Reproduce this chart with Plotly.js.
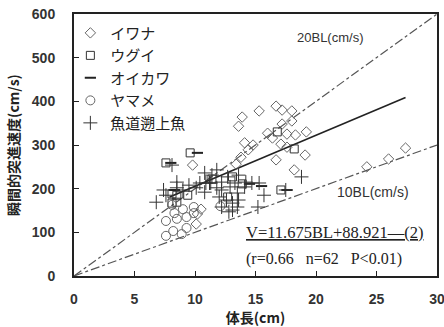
<!DOCTYPE html>
<html><head><meta charset="utf-8">
<script src="https://cdn.plot.ly/plotly-3.0.1.min.js"></script>
<style>html,body{margin:0;padding:0;background:#fff;}#chart{width:444px;height:327px;}</style>
</head><body><div id="chart"></div>
<script>
// イワナ (diamonds)
const iwanaX = [13.9,13.6,15.3,16.7,17.2,18.0,17.2,18.0,16.0,16.4,17.6,18.3,19.2,17.1,17.6,19.1,16.7,18.2,14.1,14.4,14.8,13.4,13.8,24.2,26.0,27.4,9.8,10.5,10.1,10.2];
const iwanaY = [364,343,378,389,380,378,348,355,327,316,325,323,330,302,295,277,266,243,305,289,300,256,272,250,268,293,254,153,119,142];
// ウグイ (squares)
const uguiX = [7.6,9.6,8.1,8.5,8.1,8.5,9.4,12.7,13.1,13.9,17.1,16.8,18.2,11.4];
const uguiY = [259,282,188,185,167,169,185,181,227,211,197,330,291,222];
// オイカワ (dash)
const oikawaX = [8.0,10.2,8.3,14.5,15.5,17.6];
const oikawaY = [259,282,197,211,206,197];
// ヤマメ (circles)
const yamameX = [7.6,8.3,8.5,9.3,9.9,8.1,9.9,7.6,8.2,8.9,9.3,12.1,9.0];
const yamameY = [126,144,131,135,144,163,158,92,103,96,110,160,153];
// 魚道遡上魚 (crosses)
const gyodoX = [6.8,7.6,8.5,8.5,10.1,10.8,11.4,11.3,11.8,12.0,12.6,13.1,12.2,13.6,14.2,14.7,15.2,10.4,10.9,12.7,13.6,15.3,14.1,15.7,12.9,12.2,13.5,13.1,13.5,12.8,10.8,11.2,18.8,17.5,9.0,9.5,8.1,11.8,12.2,13.3,7.4];
const gyodoY = [169,185,215,202,202,236,231,213,202,181,174,151,158,174,215,213,158,213,213,227,231,213,204,185,204,197,190,167,158,147,192,213,227,197,197,208,254,243,215,213,197];
// reference lines and regression
const bl20X = [0,30], bl20Y = [0,600];
const bl10X = [0,30], bl10Y = [0,300];
const regX = [7.9,27.4], regY = [181,409];
const xTicks = [0,5,10,15,20,25,30];
const yTicks = [0,100,200,300,400,500,600];

const fontJP = '"Noto Sans CJK JP", "Liberation Sans", sans-serif';
const fontSans = '"Liberation Sans", Arial, sans-serif';
const fontSerif = '"Liberation Serif", "Times New Roman", serif';
const traces = [
  {x:bl20X,y:bl20Y,mode:'lines',line:{color:'#555',width:1.2,dash:'dashdot'},showlegend:false,hoverinfo:'skip'},
  {x:bl10X,y:bl10Y,mode:'lines',line:{color:'#555',width:1.2,dash:'dashdot'},showlegend:false,hoverinfo:'skip'},
  {x:regX,y:regY,mode:'lines',line:{color:'#222',width:1.6},showlegend:false,hoverinfo:'skip'},
  {x:iwanaX,y:iwanaY,mode:'markers',name:'イワナ',marker:{symbol:'diamond-open',size:8,color:'#666',line:{width:1}}},
  {x:uguiX,y:uguiY,mode:'markers',name:'ウグイ',marker:{symbol:'square-open',size:8,color:'#333',line:{width:1}}},
  {x:oikawaX,y:oikawaY,mode:'markers',name:'オイカワ',marker:{symbol:'line-ew-open',size:8,color:'#222',line:{width:2}}},
  {x:yamameX,y:yamameY,mode:'markers',name:'ヤマメ',marker:{symbol:'circle-open',size:9,color:'#666',line:{width:1}}},
  {x:gyodoX,y:gyodoY,mode:'markers',name:'魚道遡上魚',marker:{symbol:'cross-thin-open',size:10,color:'#333',line:{width:1}}}
];
const layout = {
  width:444,height:327,
  margin:{l:74,r:7,t:14,b:51},
  paper_bgcolor:'#fff',plot_bgcolor:'#fff',
  font:{family:fontSans,color:'#222',size:14},
  showlegend:true,
  legend:{x:-0.01,y:0.99,xanchor:'left',yanchor:'top',bgcolor:'rgba(0,0,0,0)',font:{family:fontJP,size:15,color:'#222'},tracegroupgap:0,itemwidth:30},
  xaxis:{range:[0,30],tickvals:xTicks,ticks:'inside',ticklen:5,tickcolor:'#222',showline:true,linecolor:'#222',linewidth:2,mirror:true,showgrid:false,zeroline:false,ticklabelstandoff:9,ticklabeloverflow:'allow',tickfont:{size:14,color:'#333',weight:'bold'},
    title:{text:'体長(cm)',font:{family:fontJP,size:14,color:'#222',weight:'bold'},standoff:4}},
  yaxis:{range:[0,600],tickvals:yTicks,ticks:'inside',ticklen:5,tickcolor:'#222',showline:true,linecolor:'#222',linewidth:2,mirror:true,showgrid:false,zeroline:false,ticklabelstandoff:14,ticklabeloverflow:'allow',tickfont:{size:14,color:'#333',weight:'bold'},
    title:{text:'瞬間的突進速度(cm/s)',font:{family:fontJP,size:14,color:'#222',weight:'bold'},standoff:9}},
  annotations:[
    {x:0.61,y:0.912,xref:'paper',yref:'paper',xanchor:'left',yanchor:'middle',showarrow:false,text:'20BL(cm/s)',font:{family:fontSans,size:13,color:'#333'}},
    {x:0.72,y:0.32,xref:'paper',yref:'paper',xanchor:'left',yanchor:'middle',showarrow:false,text:'10BL(cm/s)',font:{family:fontSans,size:14,color:'#333'}},
    {x:0.468,y:0.165,xref:'paper',yref:'paper',xanchor:'left',yanchor:'middle',showarrow:false,text:'V=11.675BL+88.921—(2)',font:{family:fontSerif,size:16.5,color:'#222',lineposition:'under'}},
    {x:0.468,y:0.065,xref:'paper',yref:'paper',xanchor:'left',yanchor:'middle',showarrow:false,text:'(r=0.66&nbsp;&nbsp;&nbsp;n=62&nbsp;&nbsp;&nbsp;P&lt;0.01)',font:{family:fontSerif,size:16,color:'#222'}}
  ]
};
Plotly.newPlot('chart',traces,layout,{staticPlot:true,displayModeBar:false});
</script></body></html>
